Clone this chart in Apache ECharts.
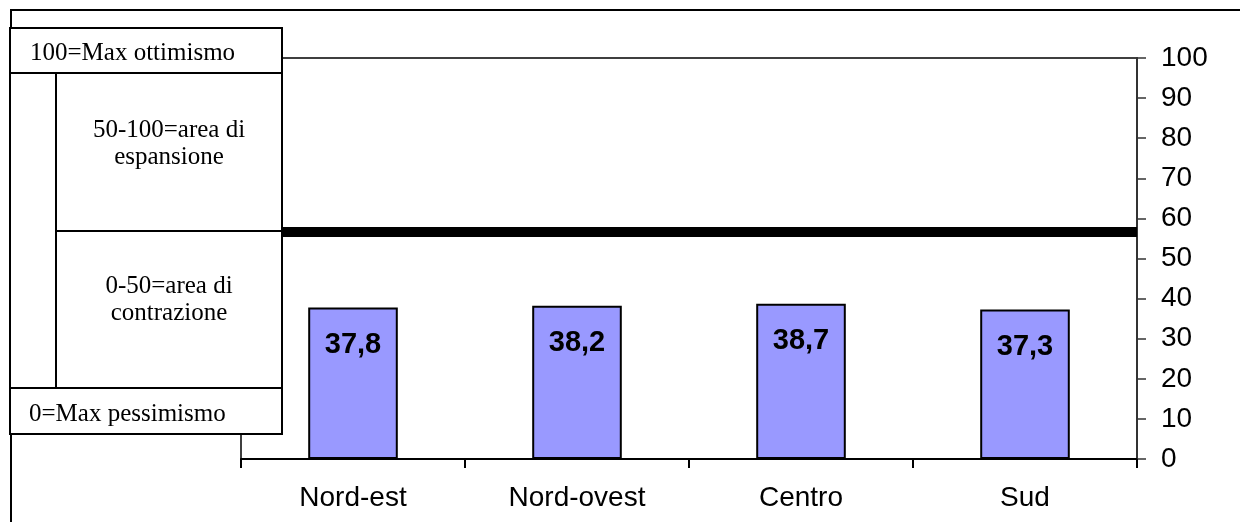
<!DOCTYPE html>
<html>
<head>
<meta charset="utf-8">
<script src="https://cdn.jsdelivr.net/npm/echarts@6/dist/echarts.min.js"></script>
<style>
html,body{margin:0;padding:0;background:#fff;}
#echarts{width:1240px;height:522px;}
</style>
</head>
<body>
<div id="echarts"></div>
<script>
var aree=['Nord-est','Nord-ovest','Centro','Sud'];
var valori=[37.8,38.2,38.7,37.3];
var soglia=56.7;//linea spessa
var yTicks=[0,10,20,30,40,50,60,70,80,90,100];

var serif='"Liberation Serif","Times New Roman",serif';
var sans='"Liberation Sans",Arial,sans-serif';

function box(x,y,w,h){
    return {type:'rect',z:100,shape:{x:x,y:y,width:w,height:h},
        style:{fill:'#fff',stroke:'#000',lineWidth:2}};
}
function testo(x,y,t,align){
    return {type:'text',z:101,x:x,y:y,
        style:{text:t,font:'25px '+serif,fill:'#000',align:align||'center',verticalAlign:'middle',lineHeight:27}};
}

var myChart=echarts.init(document.getElementById('echarts'));
var option={
    animation:false,
    grid:{//area del grafico
        left:241,
        right:103,
        top:58,
        bottom:63,
        show:true,
        borderColor:'#000',
        borderWidth:1.5
    },
    xAxis:{
        type:'category',
        data:aree,
        axisLine:{lineStyle:{color:'#000',width:2}},
        axisTick:{show:true,length:9,lineStyle:{color:'#000',width:2}},
        axisLabel:{fontFamily:sans,fontSize:28,color:'#000',margin:25}
    },
    yAxis:{
        type:'value',
        position:'right',
        min:0,
        max:100,
        interval:10,
        axisLine:{show:true,lineStyle:{color:'#333',width:2}},
        axisTick:{show:true,inside:false,length:9,lineStyle:{color:'#333',width:1.5}},
        axisLabel:{fontFamily:sans,fontSize:28,color:'#000',margin:24,
            formatter:function(v){return yTicks.indexOf(v)>=0?String(v):'';}},
        splitLine:{show:false}
    },
    series:[{
        type:'bar',
        data:valori,
        barWidth:'40%',
        itemStyle:{color:'#9999FF',borderColor:'#000',borderWidth:2},
        label:{
            show:true,
            position:'insideTop',
            distance:23,
            fontFamily:sans,
            fontSize:29,
            fontWeight:'bold',
            color:'#000',
            formatter:function(p){return String(p.value).replace('.',',');}
        },
        markLine:{
            silent:true,
            symbol:'none',
            label:{show:false},
            lineStyle:{color:'#000',width:10,type:'solid'},
            data:[{yAxis:soglia}]
        }
    }],
    graphic:[
        {type:'rect',z:-1,shape:{x:11,y:10,width:1260,height:540},style:{fill:null,stroke:'#000',lineWidth:2}},
        box(10,28,272,45),
        box(10,73,46,315),
        box(56,73,226,158),
        box(56,231,226,157),
        box(10,388,272,46),
        testo(30,53,'100=Max ottimismo','left'),
        testo(169,144,'50-100=area di\nespansione'),
        testo(169,300,'0-50=area di\ncontrazione'),
        testo(29,414,'0=Max pessimismo','left')
    ]
};
myChart.setOption(option);
</script>
</body>
</html>
